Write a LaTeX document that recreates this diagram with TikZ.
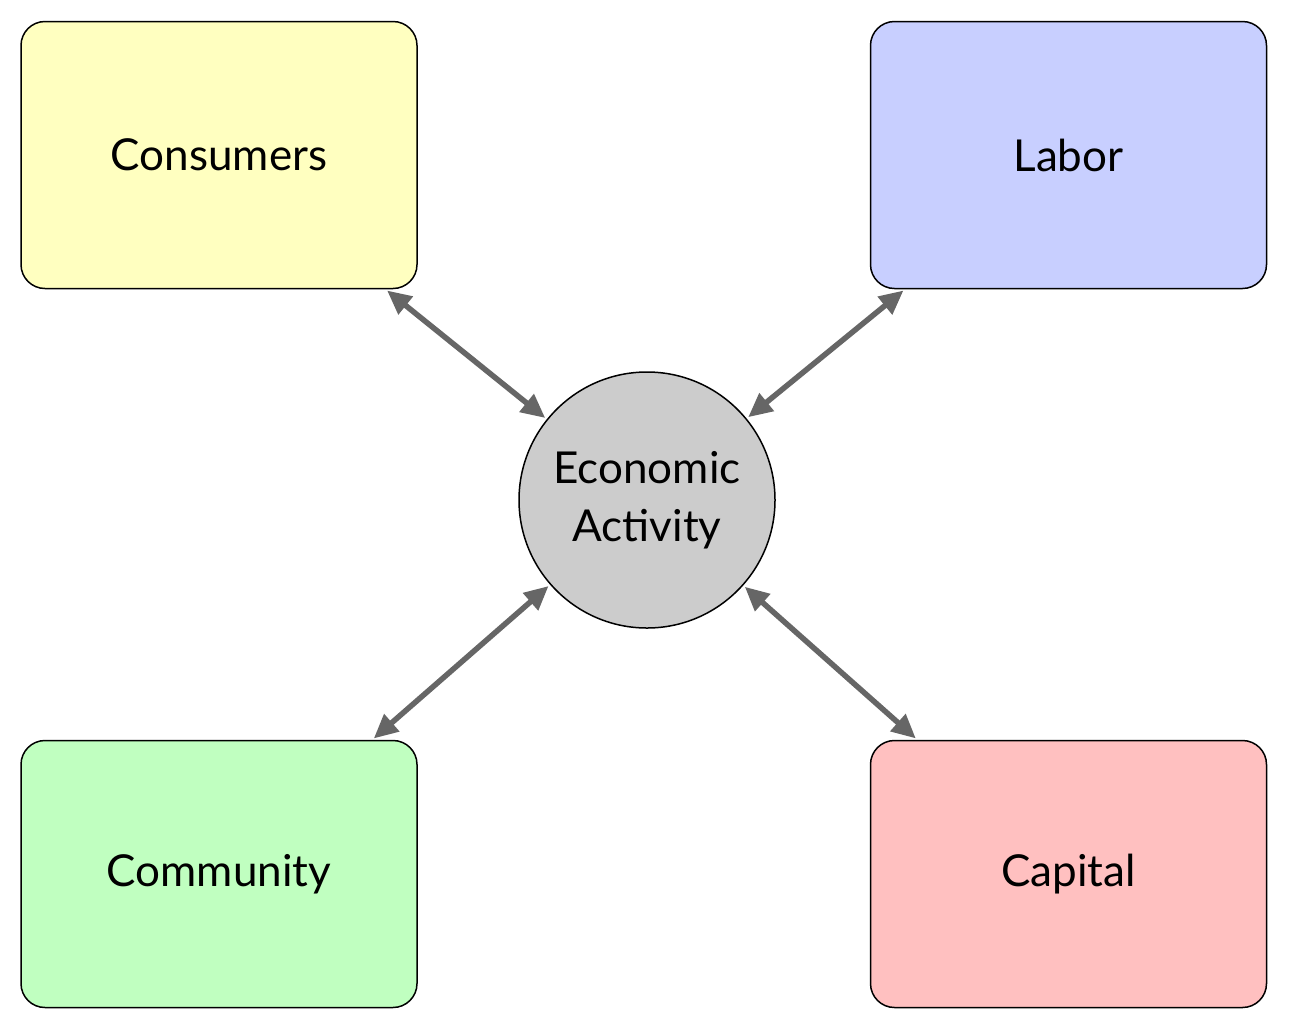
\documentclass[tikz,border=0pt]{standalone}
\usepackage{fontspec}
\setmainfont{Lato}
\usetikzlibrary{arrows.meta}
\definecolor{cyellow}{HTML}{FFFFC0}
\definecolor{cblue}{HTML}{C8CFFF}
\definecolor{cgreen}{HTML}{C0FFC0}
\definecolor{cred}{HTML}{FFC0C0}
\definecolor{cgray}{HTML}{CCCCCC}
\definecolor{carrow}{HTML}{666666}
\tikzset{mytip/.tip={Triangle[length=24pt, width=22pt]}}
\begin{document}
\begin{tikzpicture}[x=1pt,y=-1pt,
  box/.style={draw=black, line width=1.5pt, rounded corners=24pt, minimum width=396pt, minimum height=267pt, inner sep=0pt, font=\fontsize{44}{52}\selectfont},
  hub/.style={draw=black, line width=1.5pt, circle, fill=cgray, minimum size=256pt, inner sep=0pt, align=center, font=\fontsize{44}{58}\selectfont},
  link/.style={draw=carrow, fill=carrow, line width=5.5pt, mytip-mytip}
]
\useasboundingbox (0,0) rectangle (1289,1029);
\fill[white] (0,0) rectangle (1289,1029);
\node[box, fill=cyellow] (cons) at (219,155) {Consumers};
\node[box, fill=cblue] (lab) at (1068.5,155) {Labor};
\node[box, fill=cgreen] (comm) at (219,874) {Community};
\node[box, fill=cred] (cap) at (1068.5,874) {Capital};
\node[hub] (eco) at (647,500) {Economic\\Activity};
\draw[link, shorten <=2pt, shorten >=2pt] (cons) -- (eco);
\draw[link, shorten <=2pt, shorten >=2pt] (lab) -- (eco);
\draw[link, shorten <=2pt, shorten >=2pt] (comm) -- (eco);
\draw[link, shorten <=2pt, shorten >=2pt] (cap) -- (eco);
\end{tikzpicture}
\end{document}
